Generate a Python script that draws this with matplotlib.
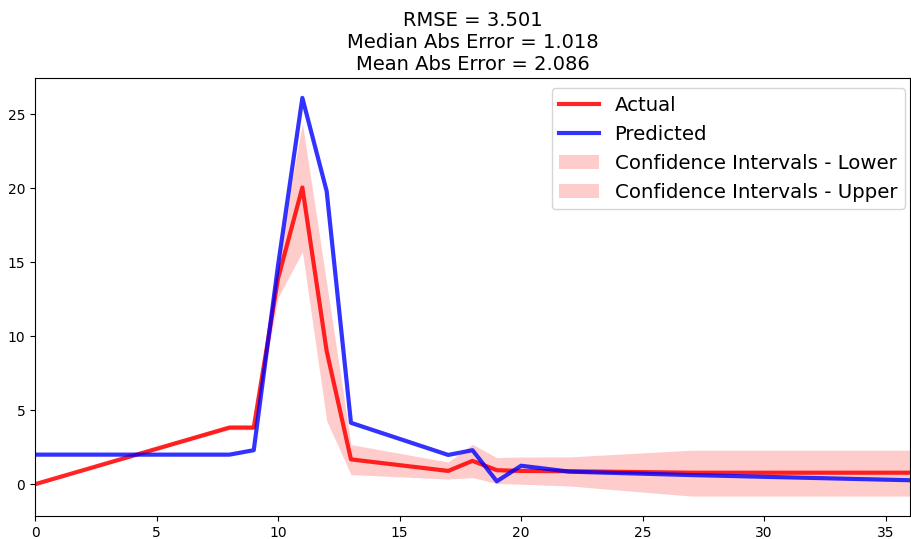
import matplotlib
matplotlib.use("Agg")
import matplotlib.pyplot as plt

x = [0, 8, 9, 10, 11, 12, 13, 17, 18, 19, 20, 22, 27, 36]
actual = [0.0, 3.83, 3.83, 13.9, 20.05, 9.0, 1.68, 0.9, 1.58, 0.95, 0.9, 0.88, 0.78, 0.78]
predicted = [2.0, 2.0, 2.3, 14.8, 26.1, 19.8, 4.15, 1.98, 2.3, 0.2, 1.25, 0.85, 0.62, 0.27]
lower = [0.0, 3.68, 3.68, 12.6, 15.7, 4.3, 0.65, 0.35, 0.45, 0.05, 0.0, -0.12, -0.8, -0.8]
upper = [0.0, 3.98, 3.98, 15.2, 24.4, 13.6, 2.68, 1.5, 2.7, 1.8, 1.84, 1.85, 2.3, 2.3]

title = "RMSE = 3.501\nMedian Abs Error = 1.018\nMean Abs Error = 2.086"

fig = plt.figure(figsize=(9.11, 5.39), dpi=100)
ax = fig.add_subplot(111)
fig.subplots_adjust(left=35/911, right=910/911, top=1-78/539, bottom=1-516/539)

ax.plot(x, actual, color="red", alpha=0.85, lw=3, label="Actual")
ax.plot(x, predicted, color="blue", alpha=0.8, lw=3, label="Predicted")
ax.fill_between(x, lower, actual, color="red", alpha=0.2, lw=0,
                label="Confidence Intervals - Lower")
ax.fill_between(x, actual, upper, color="red", alpha=0.2, lw=0,
                label="Confidence Intervals - Upper")

ax.set_xlim(0, 36)
ax.set_title(title, fontsize=14)
ax.legend(loc="upper right", fontsize=14.2, borderaxespad=0,
          bbox_to_anchor=(0.9943, 0.977))

fig.savefig("out.png", dpi=100)
